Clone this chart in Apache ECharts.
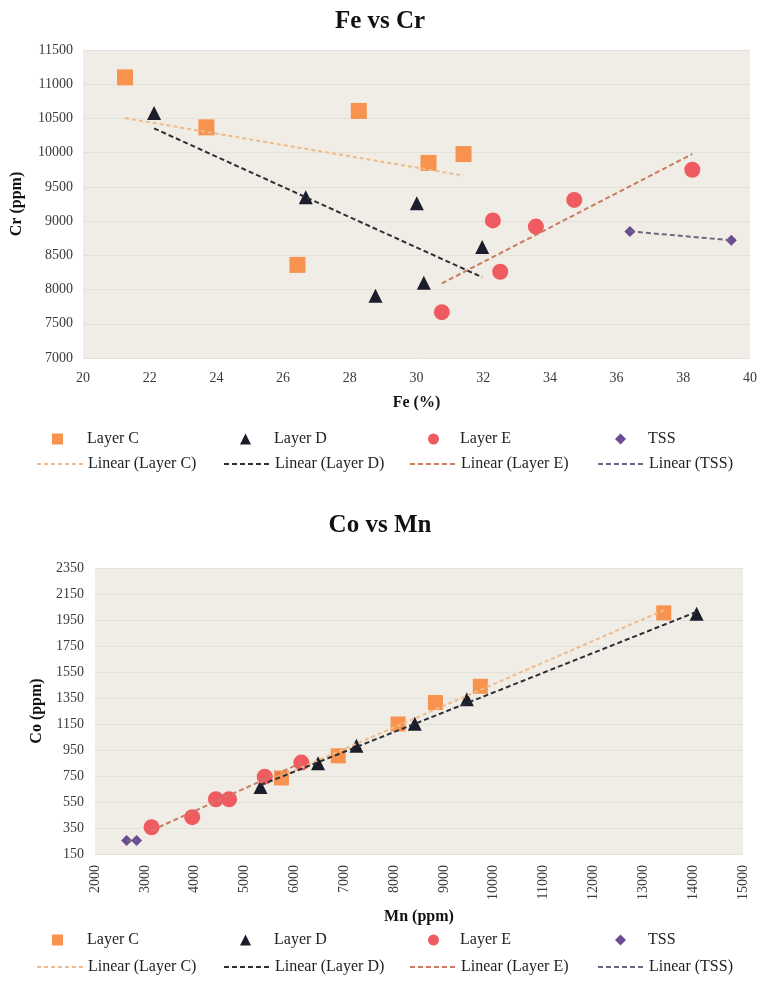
<!DOCTYPE html>
<html>
<head>
<meta charset="utf-8">
<title>Fe vs Cr / Co vs Mn</title>
<script src="https://cdn.jsdelivr.net/npm/echarts@6/dist/echarts.min.js"></script>
<style>
    html, body { margin: 0; padding: 0; background: #fff; }
    #chart { width: 760px; height: 982px; }
</style>
</head>
<body>
<div id="chart"></div>
<script>
// Fe vs Cr: [Fe %, Cr ppm]
const feCrLayerC = [[21.26, 11100], [23.7, 10370], [28.27, 10610], [26.43, 8360], [30.36, 9850], [31.41, 9980]];
const feCrLayerD = [[22.13, 10580], [26.68, 9350], [28.77, 7910], [30.01, 9260], [30.22, 8100], [31.97, 8620]];
const feCrLayerE = [[30.76, 7670], [32.29, 9010], [32.51, 8260], [33.58, 8920], [34.73, 9310], [38.27, 9750]];
const feCrTSS = [[36.4, 8850], [39.44, 8720]];
// trendline end points
const feCrTrendC = [[21.26, 10505], [31.41, 9665]];
const feCrTrendD = [[22.13, 10355], [31.97, 8180]];
const feCrTrendE = [[30.76, 8090], [38.27, 9980]];
const feCrTrendTSS = [[36.4, 8850], [39.44, 8720]];

// Co vs Mn: [Mn ppm, Co ppm]
const mnCoLayerC = [[5740, 735], [6880, 905], [8080, 1150], [8830, 1315], [9730, 1440], [13410, 2005]];
const mnCoLayerD = [[5320, 665], [6475, 848], [7245, 982], [8415, 1151], [9460, 1341], [14070, 1998]];
const mnCoLayerE = [[3135, 356], [3950, 433], [4425, 571], [4690, 571], [5405, 745], [6140, 853]];
const mnCoTSS = [[2635, 253], [2835, 253]];
const mnCoTrendC = [[5740, 748], [13410, 2025]];
const mnCoTrendD = [[5320, 680], [14070, 2013]];
const mnCoTrendE = [[3135, 332], [6140, 851]];
const mnCoTrendTSS = [[2635, 253], [2835, 253]];

const pointNames = ['Layer C', 'Layer D', 'Layer E', 'TSS'];
const trendNames = ['Linear (Layer C)', 'Linear (Layer D)', 'Linear (Layer E)', 'Linear (TSS)'];

const serif = 'Liberation Serif, Times New Roman, serif';
const colors = {
    c: '#f8924f',
    d: '#1c1d2b',
    e: '#f05b62',
    tss: '#6a4c93',
    trendC: '#edbb8c',
    trendD: '#2e2e36',
    trendE: '#cc7a62',
    trendTSS: '#6e6682'
};

function scatter(name, data, symbol, size, color, idx) {
    return {
        name: name,
        type: 'scatter',
        xAxisIndex: idx,
        yAxisIndex: idx,
        symbol: symbol,
        symbolSize: size,
        itemStyle: { color: color, opacity: 1 },
        data: data,
        z: 3
    };
}

function trend(name, data, color, dash, idx) {
    return {
        name: name,
        type: 'line',
        xAxisIndex: idx,
        yAxisIndex: idx,
        symbol: 'none',
        silent: true,
        lineStyle: { color: color, width: 2, type: dash },
        itemStyle: { color: color },
        data: data,
        z: 4
    };
}

// one legend per entry so every label sits where the reference has it
function pointLegend(name, left, top, textPad) {
    return {
        data: [name],
        left: left,
        top: top,
        itemWidth: 11,
        itemHeight: 11,
        padding: 0,
        selectedMode: false,
        textStyle: { fontFamily: serif, fontSize: 16, color: '#222', padding: [0, 0, 0, textPad] }
    };
}

function lineLegend(name, left, top) {
    return {
        data: [name],
        left: left,
        top: top,
        itemWidth: 46,
        itemHeight: 12,
        padding: 0,
        selectedMode: false,
        itemStyle: { opacity: 0 },   // hide the dot a line series puts in its legend icon
        textStyle: { fontFamily: serif, fontSize: 16, color: '#222' }
    };
}

function legendRows(rowTop1, rowTop2) {
    const pointLefts = [52, 240, 428, 615];
    const textPads = [19, 18, 16, 17];
    const lineLefts = [36, 223, 409, 597];
    const out = [];
    pointNames.forEach((n, i) => out.push(pointLegend(n, pointLefts[i], rowTop1, textPads[i])));
    trendNames.forEach((n, i) => out.push(lineLegend(n, lineLefts[i], rowTop2)));
    return out;
}

function valueAxis(extra) {
    return Object.assign({
        type: 'value',
        axisLine: { show: false },
        axisTick: { show: false },
        splitLine: { show: false },
        nameTextStyle: { fontFamily: serif, fontSize: 16, fontWeight: 'bold', color: '#111' }
    }, extra);
}

function plainLabel(extra) {
    return Object.assign({
        fontFamily: serif,
        fontSize: 14,
        color: '#3a3a3a',
        formatter: function (v) { return String(v); }
    }, extra);
}

function initChart() {
    const chartDom = document.getElementById('chart');
    const myChart = echarts.init(chartDom, null, { renderer: 'canvas' });

    const option = {
        backgroundColor: '#fff',
        animation: false,
        title: [
            {
                text: 'Fe vs Cr',
                left: 'center',
                top: 4,
                textStyle: { fontFamily: serif, fontSize: 25, fontWeight: 'bold', color: '#111' }
            },
            {
                text: 'Co vs Mn',
                left: 'center',
                top: 508,
                textStyle: { fontFamily: serif, fontSize: 25, fontWeight: 'bold', color: '#111' }
            }
        ],
        legend: legendRows(431, 456).concat(legendRows(932, 959)),
        grid: [
            {
                left: 83, top: 50, width: 667, height: 308,
                show: true, backgroundColor: '#efede5', borderWidth: 0
            },
            {
                left: 95, top: 568, width: 648, height: 286,
                show: true, backgroundColor: '#efede5', borderWidth: 0
            }
        ],
        xAxis: [
            valueAxis({
                gridIndex: 0, min: 20, max: 40, interval: 2,
                name: 'Fe (%)', nameLocation: 'middle', nameGap: 37,
                axisLabel: plainLabel({ margin: 13 })
            }),
            valueAxis({
                gridIndex: 1, min: 2000, max: 15000, interval: 1000,
                name: 'Mn (ppm)', nameLocation: 'middle', nameGap: 55,
                axisLabel: plainLabel({ rotate: 90, margin: 11 })
            })
        ],
        yAxis: [
            valueAxis({
                gridIndex: 0, min: 7000, max: 11500, interval: 500,
                name: 'Cr (ppm)', nameLocation: 'middle', nameGap: 58,
                axisLabel: plainLabel({ margin: 10 }),
                splitLine: { show: true, lineStyle: { color: '#e3e1d8', width: 1 } }
            }),
            valueAxis({
                gridIndex: 1, min: 150, max: 2350, interval: 200,
                name: 'Co (ppm)', nameLocation: 'middle', nameGap: 48,
                axisLabel: plainLabel({ margin: 11 }),
                splitLine: { show: true, lineStyle: { color: '#e3e1d8', width: 1 } }
            })
        ],
        series: [
            scatter('Layer C', feCrLayerC, 'rect', 16, colors.c, 0),
            scatter('Layer D', feCrLayerD, 'triangle', 14, colors.d, 0),
            scatter('Layer E', feCrLayerE, 'circle', 16, colors.e, 0),
            scatter('TSS', feCrTSS, 'diamond', 11, colors.tss, 0),
            trend('Linear (Layer C)', feCrTrendC, colors.trendC, [4, 3], 0),
            trend('Linear (Layer D)', feCrTrendD, colors.trendD, [5, 3], 0),
            trend('Linear (Layer E)', feCrTrendE, colors.trendE, [5, 3], 0),
            trend('Linear (TSS)', feCrTrendTSS, colors.trendTSS, [5, 3], 0),

            scatter('Layer C', mnCoLayerC, 'rect', 15, colors.c, 1),
            scatter('Layer D', mnCoLayerD, 'triangle', 14, colors.d, 1),
            scatter('Layer E', mnCoLayerE, 'circle', 16, colors.e, 1),
            scatter('TSS', mnCoTSS, 'diamond', 11, colors.tss, 1),
            trend('Linear (Layer C)', mnCoTrendC, colors.trendC, [4, 3], 1),
            trend('Linear (Layer D)', mnCoTrendD, colors.trendD, [5, 3], 1),
            trend('Linear (Layer E)', mnCoTrendE, colors.trendE, [5, 3], 1),
            trend('Linear (TSS)', mnCoTrendTSS, colors.trendTSS, [5, 3], 1)
        ]
    };

    myChart.setOption(option);
    return myChart;
}

initChart();
</script>
</body>
</html>
